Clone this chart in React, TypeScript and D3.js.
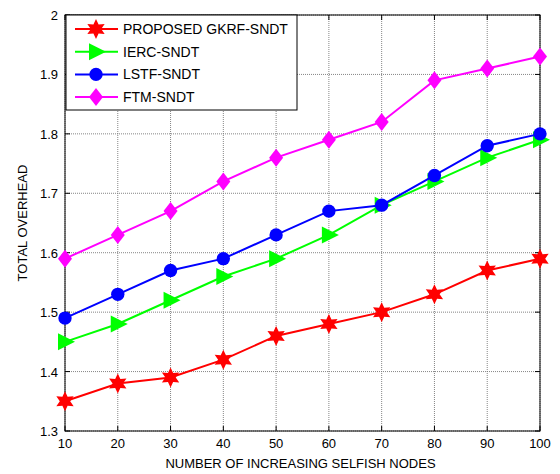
import React from "react";
import * as d3 from "d3";

const xValues = [10, 20, 30, 40, 50, 60, 70, 80, 90, 100];
const gkrf = [1.35, 1.38, 1.39, 1.42, 1.46, 1.48, 1.5, 1.53, 1.57, 1.59];
const ierc = [1.45, 1.48, 1.52, 1.56, 1.59, 1.63, 1.68, 1.72, 1.76, 1.79];
const lstf = [1.49, 1.53, 1.57, 1.59, 1.63, 1.67, 1.68, 1.73, 1.78, 1.8];
const ftm = [1.59, 1.63, 1.67, 1.72, 1.76, 1.79, 1.82, 1.89, 1.91, 1.93];
const seriesNames = ["PROPOSED GKRF-SNDT", "IERC-SNDT", "LSTF-SNDT", "FTM-SNDT"];
const seriesColors = ["#ff0000", "#00ff00", "#0000ff", "#ff00ff"];
const seriesMarkers = ["hexagram", "triangle", "circle", "diamond"];
const yTicks = [1.3, 1.4, 1.5, 1.6, 1.7, 1.8, 1.9, 2];
const xTicks = [10, 20, 30, 40, 50, 60, 70, 80, 90, 100];

const left = 65, right = 540, top = 15, bottom = 431;
const x = d3.scaleLinear().domain([10, 100]).range([left, right]);
const y = d3.scaleLinear().domain([1.3, 2]).range([bottom, top]);

function markerPath(kind: string): string {
  if (kind === "hexagram") {
    const R = 10, r = 5.2;
    const pts: [number, number][] = [];
    for (let i = 0; i < 12; i++) {
      const a = (Math.PI / 6) * i - Math.PI / 2;
      const rad = i % 2 === 0 ? R : r;
      pts.push([rad * Math.cos(a), rad * Math.sin(a)]);
    }
    return "M" + pts.map((p) => p.join(",")).join("L") + "Z";
  }
  if (kind === "triangle") {
    return "M10,0L-7,-8.5L-7,8.5Z";
  }
  if (kind === "diamond") {
    return "M0,-9L7,0L0,9L-7,0Z";
  }
  return d3.symbol().type(d3.symbolCircle).size(140)() as string;
}

const font = "'Liberation Sans', Arial, sans-serif";

export default function App() {
  const data = [gkrf, ierc, lstf, ftm];
  const line = d3
    .line<number>()
    .x((_, i) => x(xValues[i]))
    .y((d) => y(d));
  return (
    <svg width={560} height={474} style={{ position: "absolute", left: 0, top: 0, background: "#fff" }} fontFamily={font}>
      <rect x={0} y={0} width={560} height={474} fill="#fff" />
      {/* grid */}
      {xTicks.map((t) => (
        <line key={"gx" + t} x1={x(t)} x2={x(t)} y1={top} y2={bottom} stroke="#777" strokeWidth={0.9} strokeDasharray="1,1" />
      ))}
      {yTicks.map((t) => (
        <line key={"gy" + t} x1={left} x2={right} y1={y(t)} y2={y(t)} stroke="#777" strokeWidth={0.9} strokeDasharray="1,1" />
      ))}
      {/* ticks inside */}
      {xTicks.map((t) => (
        <g key={"tx" + t}>
          <line x1={x(t)} x2={x(t)} y1={bottom} y2={bottom - 5} stroke="#000" />
          <line x1={x(t)} x2={x(t)} y1={top} y2={top + 5} stroke="#000" />
          <text x={x(t)} y={bottom + 17} textAnchor="middle" fontSize={13}>{t}</text>
        </g>
      ))}
      {yTicks.map((t) => (
        <g key={"ty" + t}>
          <line x1={left} x2={left + 5} y1={y(t)} y2={y(t)} stroke="#000" />
          <line x1={right} x2={right - 5} y1={y(t)} y2={y(t)} stroke="#000" />
          <text x={left - 7} y={y(t) + 5} textAnchor="end" fontSize={13}>{d3.format("")(t)}</text>
        </g>
      ))}
      <rect x={left} y={top} width={right - left} height={bottom - top} fill="none" stroke="#000" strokeWidth={1} />
      {/* series */}
      {data.map((s, si) => (
        <g key={"s" + si}>
          <path d={line(s) as string} fill="none" stroke={seriesColors[si]} strokeWidth={2} />
          {s.map((v, i) => (
            <path key={i} d={markerPath(seriesMarkers[si])} transform={`translate(${x(xValues[i])},${y(v)})`} fill={seriesColors[si]} />
          ))}
        </g>
      ))}
      {/* legend */}
      <rect x={66} y={15} width={231} height={95} fill="#fff" stroke="#000" strokeWidth={1} />
      {seriesNames.map((n, i) => {
        const ly = 29 + i * 22.7;
        return (
          <g key={"l" + i}>
            <line x1={75} x2={118} y1={ly} y2={ly} stroke={seriesColors[i]} strokeWidth={2} />
            <path d={markerPath(seriesMarkers[i])} transform={`translate(96,${ly})`} fill={seriesColors[i]} />
            <text x={123} y={ly + 5} fontSize={14}>{n}</text>
          </g>
        );
      })}
      <text x={right / 2 + left / 2 - 2} y={468} textAnchor="middle" fontSize={13}>NUMBER OF INCREASING SELFISH NODES</text>
      <text transform={`translate(27,${(top + bottom) / 2}) rotate(-90)`} textAnchor="middle" fontSize={13}>TOTAL OVERHEAD</text>
    </svg>
  );
}
